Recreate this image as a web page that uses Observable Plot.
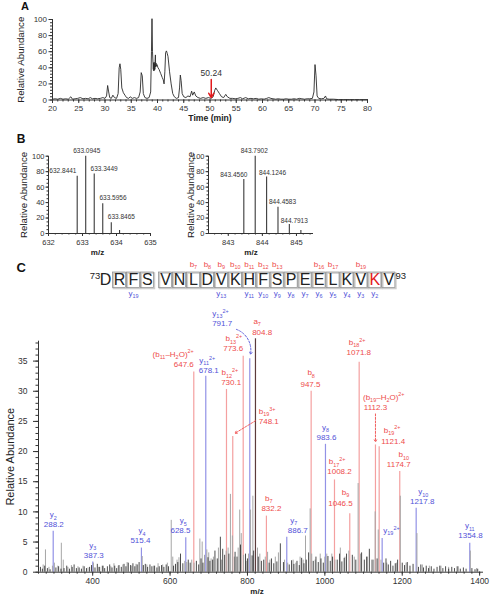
<!DOCTYPE html>
<html><head><meta charset="utf-8">
<script src="https://cdn.jsdelivr.net/npm/d3@7"></script>
<script src="https://cdn.jsdelivr.net/npm/@observablehq/plot@0.6"></script>
<style>
html,body{margin:0;padding:0;background:#fff;}
#fig{position:relative;width:492px;height:597px;overflow:hidden;font-family:"Liberation Sans",Arial,sans-serif;}
.pnl{position:absolute;line-height:0;}
.letter{position:absolute;font-family:"Liberation Sans",Arial,sans-serif;font-weight:bold;line-height:1;color:#111;}
</style></head>
<body><div id="fig"></div>
<script>
// ================= DATA =================
// Panel A: chromatogram (time min, relative abundance)
const aTrace = [
[20,1],[20.5,1.5],[21,1],[21.5,2],[22,1],[22.5,1.5],[23,1],[23.5,4],[23.8,1],[24.3,1.5],[24.8,2],[25.3,3],[25.8,1.5],[26.3,2],[26.8,1.5],[27.2,3],[27.6,1.5],[28.1,2],[28.6,1.5],[29.1,2],[29.6,3],[30.0,2],[30.3,5],[30.5,18],[30.7,10],[30.9,3],[31.2,2],[31.5,6],[31.8,3],[32.2,2],[32.5,8],[32.7,40],[32.85,45],[33.0,38],[33.2,15],[33.5,9],[33.8,6],[34.1,3],[34.5,2],[34.8,4],[35.2,2],[35.6,3],[36.0,2],[36.4,3],[36.7,10],[36.9,34],[37.1,30],[37.3,8],[37.6,3],[38.0,2],[38.4,3],[38.7,10],[38.85,60],[38.95,101],[39.05,60],[39.2,38],[39.25,46],[39.3,36],[39.35,47],[39.4,37],[39.45,45],[39.5,38],[39.55,50],[39.6,56],[39.65,41],[39.7,46],[39.8,42],[39.9,44],[40.1,40],[40.3,38],[40.6,33],[40.9,28],[41.1,25],[41.25,20],[41.4,35],[41.55,59],[41.7,61],[41.85,58],[42.0,54],[42.3,35],[42.6,20],[42.9,8],[43.2,4],[43.6,2],[44.0,3],[44.2,15],[44.35,31],[44.5,24],[44.7,8],[45.0,4],[45.4,3],[45.8,5],[46.2,4],[46.5,11],[46.7,6],[47.0,10],[47.3,5],[47.7,3],[48.2,2],[48.7,3],[49.2,2],[49.7,3],[50.2,2],[50.6,4],[50.9,12],[51.1,15],[51.4,12],[51.8,8],[52.2,4],[52.6,3],[53.0,7],[53.3,4],[53.8,2],[54.3,2],[54.8,1.5],[55.3,2],[55.8,3],[56.2,1.5],[56.8,3],[57.3,1.5],[57.8,2],[58.3,1.5],[58.8,2],[59.3,1],[59.8,1.5],[60.3,1],[60.8,2],[61.2,3],[61.6,2],[62.0,1.5],[62.5,1],[63.0,1.5],[63.5,1],[64.0,1],[64.5,1.5],[65.0,1],[65.5,1],[66.0,1.5],[66.5,1],[67.0,2],[67.5,1.5],[68.0,1],[68.5,1.5],[69.0,1.5],[69.5,2],[69.8,10],[70.0,44],[70.2,30],[70.4,5],[70.7,2],[71.2,1.5],[71.7,2],[72.0,5],[72.2,1.5],[72.7,1],[73.5,1],[74.5,0.5],[75.5,0.5],[76.5,0.5],[77.5,0.5],[78.5,0.5],[80,0.5]
];
const aXTicks = [20,25,30,35,40,45,50,55,60,65,70,75,80];
const aYTicks = [0,20,40,60,80,100];
const aMarkTime = 50.24;
const aMarkLabel = "50.24";

// Panel B: isotope envelopes
const b1Mz = [632.8441,633.0945,633.3449,633.5956,633.8465,634.09];
const b1Int = [74,100,77,38.6,14,4];
const b1Labels = ["632.8441","633.0945","633.3449","633.5956","633.8465",""];
const b1Ticks = [632,633,634,635];
const b2Mz = [843.4560,843.7902,844.1246,844.4583,844.7913,845.13];
const b2Int = [70,100,73,34,11.6,4];
const b2Labels = ["843.4560","843.7902","844.1246","844.4583","844.7913",""];
const b2Ticks = [843,844,845];
const bYTicks = [0,20,40,60,80,100];

// Panel C: sequence and MS/MS
const sequence = ["D","R","F","S","V","N","L","D","V","K","H","F","S","P","E","E","L","K","V","K","V"];
const seqStart = "73", seqEnd = "93";
const modifiedIndex = 19;
const bIonsSeq = [7,8,9,10,11,12,13,16,17,19];
const yIonsSeq = [19,13,11,10,9,8,7,6,5,4,3,2];

const ionNames = ["y_{2}","y_{3}","y_{4}","y_{5}","(b_{11}–H_{2}O)^{2+}","y_{11}^{2+}","b_{12}^{2+}","b_{19}^{3+}","b_{13}^{2+}","y_{13}^{2+}","a_{7}","b_{7}","y_{7}","b_{8}","y_{8}","b_{17}^{2+}","b_{9}","b_{18}^{2+}","(b_{19}–H_{2}O)^{2+}","b_{19}^{2+}","y_{19}^{2+}","b_{10}","y_{10}","y_{11}"];
const ionValues = ["288.2","387.3","515.4","628.5","647.6","678.1","730.1","748.1","773.6","791.7","804.8","832.2","886.7","947.5","983.6","1008.2","1046.5","1071.8","1112.3","1121.4","","1174.7","1217.8","1354.8"];
const ionTypes = ["y","y","y","y","b","y","b","b","b","y","a","b","y","b","y","b","b","b","b","b","y","b","y","y"];
const ionPeakMz = [298,400.3,526,640.6,661.3,692.3,745.8,762,789,806,820.7,849,901.6,964.6,1001.6,1024.9,1064.4,1088.7,1130.8,1140.4,1148.1,1193.6,1236,1374.5];
const ionPeakInt = [6.8,1.7,4.0,5.7,33.2,32.5,30.3,22.5,35.8,35.4,38.7,9.3,5.8,30.0,21.2,15.3,9.7,34.8,21.1,20.8,5.6,16.7,10.6,4.8];

const cNoiseGray = [[272,1.2],[278,3.7],[287,0.8],[296,1.0],[301,1.5],[310,1.0],[319,4.8],[324,2.0],[336,0.8],[345,1.1],[362,0.9],[375,1.0],[388,0.7],[402,1.5],[415,0.8],[428,1.0],[447,0.9],[455,1.4],[466,1.0],[478,1.2],[489,1.6],[501,1.0],[512,1.3],[528,2.6],[540,1.2],[557,1.0],[569,1.4],[581,1.2],[593,1.5],[603,8.6],[607,2.5],[618,2.0],[623,2.4],[638,1.8],[643,1.6],[656,2.0],[662,1.5],[677,5.5],[683,5.0],[689,2.8],[695,3.7],[700,3.2],[706,2.2],[712,2.5],[725,4.0],[733,2.0],[745,3.5],[750,4.0],[756,12.9],[761,6.0],[766,2.5],[776,4.0],[780,10.3],[784,6.4],[790,2.8],[797,1.8],[803,3.0],[808,10.3],[814,12.6],[826,4.0],[832,3.0],[846,2.5],[852,3.3],[858,2.0],[872,2.5],[880,3.2],[896,2.0],[904,1.5],[918,2.0],[925,1.5],[936,2.5],[944,2.0],[950,6.0],[962,10.5],[966,3.0],[975,2.0],[988,3.0],[1000,2.5],[1005,3.0],[1018,3.0],[1026,2.0],[1040,4.0],[1052,2.5],[1062,3.5],[1076,2.5],[1086,14.7],[1092,3.0],[1110,2.5],[1126,2.0],[1130,10.0],[1138,7.0],[1145,2.0],[1160,1.5],[1185,1.5],[1195,12.6],[1210,1.5],[1238,6.4],[1252,1.2],[1270,1.0],[1300,1.0],[1320,0.8],[1345,0.9],[1376,3.5],[1392,0.6]];
const cNoiseBlack = [[265,0.8],[270,0.5],[276,1.0],[283,0.6],[290,0.4],[305,0.7],[312,0.9],[318,0.5],[326,0.6],[333,1.0],[340,0.5],[347,0.8],[352,1.2],[358,0.6],[365,0.7],[371,0.5],[378,0.9],[384,0.6],[392,0.8],[397,1.1],[406,0.7],[412,1.3],[418,0.8],[425,1.0],[431,0.6],[438,0.9],[444,1.2],[450,0.7],[457,1.0],[462,0.6],[468,1.1],[474,0.8],[481,1.3],[486,0.9],[492,1.5],[498,1.1],[504,1.4],[509,0.9],[515,1.2],[520,1.6],[531,1.1],[536,1.3],[542,0.8],[548,1.2],[553,0.9],[560,1.0],[566,0.7],[572,0.9],[578,1.1],[584,0.8],[590,1.2],[596,0.9],[609,1.0],[614,1.3],[620,1.6],[627,3.0],[633,1.4],[647,2.0],[652,1.5],[668,1.8],[674,1.2],[680,2.2],[685,1.5],[698,2.4],[703,1.8],[710,2.0],[716,3.5],[722,2.2],[730,5.8],[736,3.8],[741,2.8],[752,3.0],[768,3.3],[773,2.5],[782,4.5],[795,3.0],[800,2.2],[812,2.7],[816,3.5],[828,2.5],[836,1.8],[842,2.0],[856,1.5],[862,2.2],[868,1.4],[876,1.7],[885,4.7],[893,1.6],[908,1.2],[914,1.9],[920,1.3],[928,1.8],[934,1.1],[940,2.3],[946,1.4],[952,2.0],[958,3.2],[970,1.8],[977,2.5],[983,1.6],[990,2.2],[996,1.5],[1008,2.6],[1014,1.8],[1020,2.5],[1032,2.0],[1038,3.0],[1044,1.7],[1050,2.3],[1056,3.0],[1071,2.8],[1080,2.0],[1095,3.2],[1102,2.0],[1108,2.5],[1115,3.8],[1122,2.0],[1135,2.2],[1152,1.5],[1158,2.2],[1164,1.2],[1170,1.8],[1176,1.0],[1182,1.4],[1188,2.0],[1200,1.5],[1206,1.1],[1213,1.6],[1220,1.0],[1228,1.3],[1242,0.8],[1248,1.2],[1255,0.7],[1262,1.0],[1268,0.6],[1275,0.9],[1282,0.5],[1290,0.8],[1297,1.0],[1305,0.6],[1312,0.9],[1320,0.5],[1328,0.8],[1335,0.6],[1342,0.9],[1350,0.5],[1358,0.7],[1365,0.5],[1380,0.6],[1388,0.4],[1395,0.5]];
const cXTicks = [400,600,800,1000,1200,1400];
const cYTicks = [0,5,10,15,20,25,30,35];

// ================= LAYOUT / STYLE =================
const FONT = '"Liberation Sans", Arial, sans-serif';
const RED = "#ee4b4b", BLUE = "#5252d8", RED_LINE = "#f4a0a0", BLUE_LINE = "#9292e6";
const fig = document.getElementById("fig");
const style = fs => ({fontFamily: FONT, fontSize: fs + "px", color: "#333", background: "none", overflow: "visible"});
const plain = d => String(d);

function richify(svg) {
  svg.querySelectorAll("text").forEach(el => {
    if (el.querySelector("tspan")) return;
    const s = el.textContent;
    if (!/[_^]\{/.test(s)) return;
    const fs = parseFloat(getComputedStyle(el).fontSize) || 9;
    el.textContent = "";
    const re = /([_^])\{([^}]*)\}|([^_^]+)/g;
    let m, shift = 0;
    while ((m = re.exec(s))) {
      const t = document.createElementNS("http://www.w3.org/2000/svg", "tspan");
      let target = 0, small = false;
      if (m[1] === "_") { target = fs * 0.3; small = true; t.textContent = m[2]; }
      else if (m[1] === "^") { target = -fs * 0.42; small = true; t.textContent = m[2]; }
      else t.textContent = m[3];
      t.setAttribute("dy", (target - shift).toFixed(2));
      shift = target;
      if (small) t.setAttribute("font-size", (fs * 0.68).toFixed(2));
      el.appendChild(t);
    }
  });
}
function place(node, left, top) {
  const d = document.createElement("div");
  d.className = "pnl";
  d.style.left = left + "px"; d.style.top = top + "px";
  d.appendChild(node); fig.appendChild(d);
  richify(node);
}
function letter(txt, left, top, fs) {
  const d = document.createElement("div");
  d.className = "letter"; d.textContent = txt;
  d.style.left = left + "px"; d.style.top = top + "px"; d.style.fontSize = fs + "px";
  fig.appendChild(d);
}
const blank = () => "";

// ================= PANEL A =================
const aData = aTrace.map(([t, v]) => ({t, v}));
const plotA = Plot.plot({
  width: 380, height: 125, marginLeft: 52, marginRight: 13, marginTop: 19, marginBottom: 25.5,
  x: {domain: [20, 80]}, y: {domain: [0, 100]},
  style: style(8),
  marks: [
    Plot.axisY({ticks: d3.range(0, 101, 4), tickSize: 2, tickFormat: blank, label: null}),
    Plot.axisY({ticks: aYTicks, tickSize: 3.5, tickPadding: 2, tickFormat: plain, label: null}),
    Plot.axisX({ticks: d3.range(20, 80.5, 1), tickSize: 2, tickFormat: blank, label: null}),
    Plot.axisX({ticks: aXTicks, tickSize: 3.5, tickPadding: 1.5, tickFormat: plain, label: null}),
    Plot.ruleX([20], {stroke: "#333"}), Plot.ruleY([0], {stroke: "#333"}),
    Plot.line(aData, {x: "t", y: "v", stroke: "#2a2a2a", strokeWidth: 0.9}),
    Plot.arrow([aMarkTime], {x1: d => d, x2: d => d, y1: 25.5, y2: 3, stroke: "#e31a1c", strokeWidth: 1.5, headLength: 5}),
    Plot.text([aMarkLabel], {x: aMarkTime, y: 25.5, dy: -6, fontSize: 8.5, fill: "#333"}),
    Plot.text(["Time (min)"], {frameAnchor: "bottom", dy: 18.5, lineAnchor: "middle", fontWeight: "bold", fontSize: 8.6, fill: "#222"}),
    Plot.text(["Relative Abundance"], {frameAnchor: "left", dx: -32, rotate: -90, textAnchor: "middle", lineAnchor: "middle", fontSize: 9.7, fill: "#222"})
  ]
});
place(plotA, 0, 0);
letter("A", 21, 1.2, 11);

// ================= PANEL B =================
function isoPlot(mz, ints, labels, ticks, domain, anchors, dxs, dys, o) {
  const data = mz.map((m, i) => ({m, v: ints[i], label: labels[i], i}));
  return Plot.plot({
    width: o.width, height: 120, marginLeft: 48, marginRight: o.marginRight, marginTop: 15.7, marginBottom: 27,
    x: {domain}, y: {domain: [0, 100]},
    style: style(7.5),
    marks: [
      Plot.axisY({ticks: d3.range(0, 101, 5), tickSize: 1.5, tickFormat: blank, label: null}),
      Plot.axisY({ticks: bYTicks, tickSize: 2.5, tickPadding: 1.5, tickFormat: plain, label: null}),
      Plot.axisX({ticks: o.minor, tickSize: 1.5, tickFormat: blank, label: null}),
      Plot.axisX({ticks, tickSize: 3, tickPadding: 2.8, tickFormat: plain, label: null}),
      Plot.ruleX([domain[0]], {stroke: "#333"}), Plot.ruleY([0], {stroke: "#333"}),
      Plot.ruleX(data, {x: "m", y1: 0, y2: "v", stroke: "#3a3a3a", strokeWidth: 1.1}),
      ...data.filter(d => d.label).map(d => Plot.text([d], {x: "m", y: "v", text: "label", textAnchor: anchors[d.i], lineAnchor: "middle", dx: dxs[d.i], dy: dys[d.i], fontSize: 6.5, fill: "#333"})),
      Plot.text(["m/z"], {frameAnchor: "bottom", dx: o.mzDx, dy: 18.5, lineAnchor: "middle", fontWeight: "bold", fontSize: 8, fill: "#222"}),
      Plot.text(["Relative Abundance"], {frameAnchor: "left", dx: o.labDx, rotate: -90, textAnchor: "middle", lineAnchor: "middle", fontSize: 9.7, fill: "#222"})
    ]
  });
}
const plotB1 = isoPlot(b1Mz, b1Int, b1Labels, b1Ticks, [632, 635],
  ["end", "middle", "start", "start", "start"], [-0.7, 1, -3.7, -3.3, -3.5], [-5, -5.7, -5, -5.5, -5.5],
  {width: 160, marginRight: 10, minor: d3.range(632, 635.01, 0.2), mzDx: -2, labDx: -25});
place(plotB1, 0, 140);
const plotB2 = isoPlot(b2Mz, b2Int, b2Labels, b2Ticks, [842.42, 845.5],
  ["middle", "middle", "start", "start", "start"], [-10, -1, -7.7, -9, -8.6], [-4.6, -5.7, -4.3, -5, -4],
  {width: 160, marginRight: 7, minor: d3.range(842.6, 845.5, 0.2), mzDx: -10, labDx: -18});
place(plotB2, 160, 140);
letter("B", 16.7, 133.1, 12);

// ================= PANEL C: sequence =================
const gapAfter = 3;
const slot = i => i + (i > gapAfter ? 0.3 : 0);
const seqData = sequence.map((aa, i) => ({aa, i, s: slot(i)}));
const plotSeq = Plot.plot({
  width: 492, height: 15.5, marginLeft: 105, marginRight: 103.7, marginTop: 0, marginBottom: 0,
  x: {domain: [0, slot(sequence.length - 1)], axis: null},
  style: style(8),
  marks: [
    Plot.rect(seqData.filter(d => d.i > 0), {x1: d => d.s - 0.47, x2: d => d.s + 0.47, fill: "none", stroke: "#cccccc", strokeWidth: 1.6, dx: 1, dy: 1}),
    Plot.rect(seqData.filter(d => d.i > 0), {x1: d => d.s - 0.47, x2: d => d.s + 0.47, fill: "none", stroke: "#8a8a8a", strokeWidth: 0.7}),
    Plot.text(seqData.filter(d => d.i !== modifiedIndex), {x: "s", text: "aa", frameAnchor: "middle", lineAnchor: "middle", fontSize: 16, fill: "#222"}),
    Plot.text(seqData.filter(d => d.i === modifiedIndex), {x: "s", text: "aa", frameAnchor: "middle", lineAnchor: "middle", fontSize: 16, fill: "#e31a1c"}),
    Plot.text([seqStart], {x: slot(0), dx: -10.5, dy: -4, frameAnchor: "middle", lineAnchor: "middle", fontSize: 9.5, fill: "#222"}),
    Plot.text([seqEnd], {x: slot(sequence.length - 1), dx: 12, dy: -4, frameAnchor: "middle", lineAnchor: "middle", fontSize: 9.5, fill: "#222"}),
    Plot.text(bIonsSeq, {x: n => slot(n - 1), text: n => `b_{${n}}`, frameAnchor: "top", lineAnchor: "middle", dy: -8, fontSize: 8, fill: RED}),
    Plot.text(yIonsSeq, {x: n => slot(sequence.length - n), text: n => `y_{${n}}`, frameAnchor: "bottom", lineAnchor: "middle", dy: 5, fontSize: 8, fill: BLUE})
  ]
});
place(plotSeq, 0, 272);
letter("C", 16.5, 260.7, 13);

// ================= PANEL C: spectrum =================
const C = {w: 492, h: 297, ml: 38, mr: 9, mt: 40.7, mb: 25.3, xd: [260, 1410], yd: [0, 38.3]};
const kx = (C.w - C.ml - C.mr) / (C.xd[1] - C.xd[0]);
const ky = (C.h - C.mt - C.mb) / (C.yd[1] - C.yd[0]);
const ions = ionNames.map((name, i) => ({name, value: ionValues[i], type: ionTypes[i], mz: ionPeakMz[i], v: ionPeakInt[i], i}));
// label offsets in pixels relative to peak top
const nameDx = [0,0,0.7,-2.6,-20.6,1.4,3.3,34.4,-9.4,-29.3,1.7,2.3,7,0,0,2.7,-4.3,-2,8.3,13,9.3,4,7,0];
const nameDy = [-16.4,-16.5,-17.5,-17,-18,-15.7,-16.7,-25,-17.4,-45.3,-17.3,-17.7,-16.7,-18.4,-17,-18.3,-21.6,-20,-47.7,-16.7,-8,-16.7,-16.6,-17.4];
const valDx = [0.6,1,-1,-5.3,-10,3,4.7,36,-10,-27.6,6.7,5,11,-0.7,1,5,-9.3,-0.4,0,14,0,-1,6,0.7];
const valDy = [-6.4,-6.7,-7.7,-7,-8,-5.5,-6.7,-15,-7.4,-35.3,-6.8,-7.7,-6.7,-6.7,-7,-8.3,-10.6,-9.4,-37.3,-5,0,-6.7,-6.6,-7.7];
// arrows: [ion index, start dx, start dy, end dx, end dy, bend, type]
const arrowSpecs = [[7, 22.7, -15.7, 2.2, -3.2, 0, "b"], [18, 0, -31, 0, -3, 0, "b"], [9, -13.3, -29.3, 0.7, -4.3, 40, "y"]];
const arrows = arrowSpecs.map(([i, sx, sy, ex, ey, bend, t]) => ({
  x1: ionPeakMz[i] + sx / kx, y1: ionPeakInt[i] - sy / ky,
  x2: ionPeakMz[i] + ex / kx, y2: ionPeakInt[i] - ey / ky, bend, t
}));
const labelColor = t => (t === "y" ? BLUE : RED);
const lineColor = {b: RED_LINE, y: BLUE_LINE, a: "#5c3b3b"};
const gray = cNoiseGray.map(([m, v]) => ({m, v}));
const black = cNoiseBlack.map(([m, v]) => ({m, v}));

const plotC = Plot.plot({
  width: C.w, height: C.h, marginLeft: C.ml, marginRight: C.mr, marginTop: C.mt, marginBottom: C.mb,
  x: {domain: C.xd}, y: {domain: C.yd},
  style: style(8.5),
  marks: [
    Plot.axisY({ticks: d3.range(0, 38.3, 1), tickSize: 2.5, tickFormat: blank, label: null}),
    Plot.axisY({ticks: cYTicks, tickSize: 5, tickPadding: 6, tickFormat: plain, label: null}),
    Plot.axisX({ticks: d3.range(260, 1411, 20), tickSize: 2, tickFormat: blank, label: null}),
    Plot.axisX({ticks: cXTicks, tickSize: 4, tickPadding: 2, tickFormat: plain, label: null}),
    ...["b", "y", "a"].map(t => Plot.ruleX(ions.filter(d => d.type === t), {x: "mz", y1: 0, y2: "v", stroke: lineColor[t], strokeWidth: 1.2})),
    Plot.ruleX(gray, {x: "m", y1: 0, y2: "v", stroke: "#a6a6a6", strokeWidth: 1}),
    Plot.ruleX(black, {x: "m", y1: 0, y2: "v", stroke: "#1e1e1e", strokeWidth: 0.8}),
    Plot.ruleX([C.xd[0]], {stroke: "#333"}), Plot.ruleY([0], {stroke: "#333"}),
    ...ions.flatMap(d => [
      Plot.text([d], {x: "mz", y: "v", text: "name", lineAnchor: "middle", dx: nameDx[d.i], dy: nameDy[d.i], fontSize: 8, fill: labelColor(d.type)}),
      Plot.text([d], {x: "mz", y: "v", text: "value", lineAnchor: "middle", dx: valDx[d.i], dy: valDy[d.i], fontSize: 8, fill: labelColor(d.type)})
    ]),
    ...arrows.map(a => Plot.arrow([a], {x1: "x1", y1: "y1", x2: "x2", y2: "y2", bend: a.bend, stroke: labelColor(a.t), strokeWidth: 0.9, strokeDasharray: "2,1.5", headLength: 4})),
    Plot.text(["m/z"], {frameAnchor: "bottom", dx: -4, dy: 18.8, lineAnchor: "middle", fontWeight: "bold", fontSize: 8, fill: "#222"}),
    Plot.text(["Relative Abundance"], {frameAnchor: "left", dx: -28, rotate: -90, textAnchor: "middle", lineAnchor: "middle", fontSize: 11, fill: "#222"})
  ]
});
place(plotC, 0, 300);
</script>
</body></html>
